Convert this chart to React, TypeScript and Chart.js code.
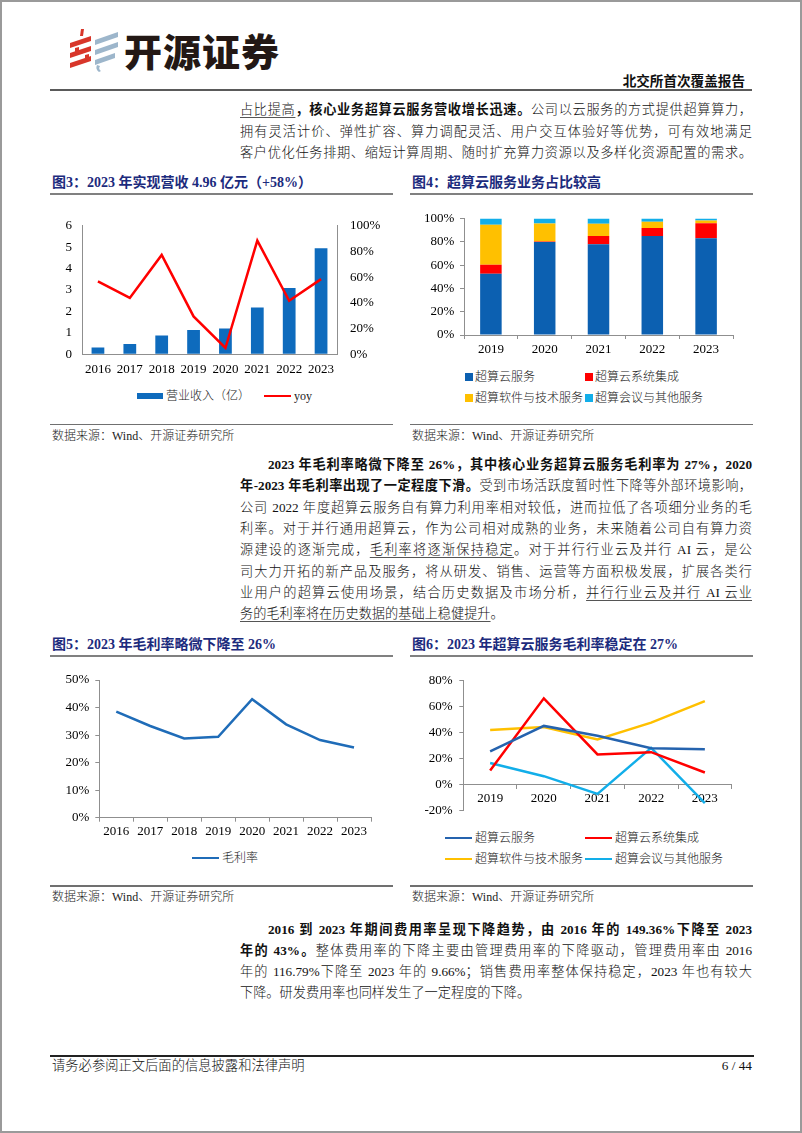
import React, { useEffect, useRef } from "react";
import { Chart, registerables } from "chart.js";

Chart.register(...registerables);

// ---------- data ----------
const revenueYears = ["2016", "2017", "2018", "2019", "2020", "2021", "2022", "2023"];
const revenueValues = [0.32, 0.48, 0.88, 1.14, 1.2, 2.18, 3.1, 4.95];
const revenueYoy = [56.8, 43.9, 77.3, 29.5, 4.9, 88.5, 41.7, 58.5];

const mixYears = ["2019", "2020", "2021", "2022", "2023"];
const mixCloud = [52.6, 79.8, 77.8, 85.0, 83.0];
const mixSystem = [7.6, 0.4, 7.2, 6.8, 13.0];
const mixSoftware = [34.4, 15.5, 10.5, 5.4, 2.3];
const mixOther = [5.4, 4.3, 4.5, 2.8, 1.7];

const marginYears = ["2016", "2017", "2018", "2019", "2020", "2021", "2022", "2023"];
const grossMargin = [38.5, 33.3, 28.8, 29.4, 43.0, 33.9, 28.2, 25.5];

const segYears = ["2019", "2020", "2021", "2022", "2023"];
const segCloud = [25.5, 45.2, 37.6, 28.0, 27.2];
const segSystem = [10.8, 66.4, 23.2, 25.0, 9.3];
const segSoftware = [42.1, 44.4, 34.8, 47.7, 64.3];
const segOther = [16.6, 6.5, -7.1, 28.3, -14.2];

const segNames = ["超算云服务", "超算云系统集成", "超算软件与技术服务", "超算会议与其他服务"];

// ---------- styles ----------
const SERIF = '"Liberation Serif", "Noto Sans CJK SC", serif';
const TICK_FONT = { family: '"Liberation Serif", serif', size: 13 };
const AXIS = "#8f8f8f";
const NAVY = "#1c2b7d";
const C_BLUE_BAR = "#0e6bbd";
const C_BLUE_STACK = "#0c60b1";
const C_RED = "#ff0000";
const C_YELLOW = "#ffc000";
const C_CYAN = "#12aee9";
const C_LINE_BLUE = "#1f6cb8";
const C_SEG_BLUE = "#2563ae";

const fixW = (w: number) => (s: any) => {
  s.width = w;
};
const fixH = (h: number) => (s: any) => {
  s.height = h;
};
const pct = (v: any) => `${v}%`;

function ChartCanvas({ left, top, width, height, make }: any) {
  const ref = useRef<HTMLCanvasElement>(null);
  useEffect(() => {
    const chart = new Chart(ref.current as HTMLCanvasElement, make());
    return () => chart.destroy();
  }, []);
  return (
    <div style={{ position: "absolute", left, top, width, height }}>
      <canvas ref={ref} width={width} height={height} style={{ width, height, display: "block" }} />
    </div>
  );
}

const baseOptions = (padding: any) => ({
  responsive: false,
  maintainAspectRatio: false,
  animation: false as const,
  layout: { padding },
  plugins: { legend: { display: false }, tooltip: { enabled: false } },
});

function revenueConfig(): any {
  return {
    type: "bar",
    data: {
      labels: revenueYears,
      datasets: [
        {
          type: "line",
          label: "yoy",
          data: revenueYoy,
          yAxisID: "y1",
          borderColor: C_RED,
          borderWidth: 2.5,
          pointRadius: 0,
          tension: 0,
          order: 0,
        },
        {
          type: "bar",
          label: "营业收入（亿）",
          data: revenueValues,
          yAxisID: "y",
          backgroundColor: C_BLUE_BAR,
          categoryPercentage: 1,
          barPercentage: 0.4,
          order: 1,
        },
      ],
    },
    options: {
      ...baseOptions({ top: 12.7, left: 0, right: 0, bottom: 0 }),
      scales: {
        x: {
          afterFit: fixH(30.7),
          grid: { display: true, drawOnChartArea: false, drawTicks: false },
          border: { color: AXIS },
          ticks: { font: TICK_FONT, color: "#000", padding: 7, maxRotation: 0 },
        },
        y: {
          position: "left",
          min: 0,
          max: 6,
          afterFit: fixW(32),
          grid: { drawOnChartArea: false, drawTicks: false },
          border: { color: AXIS },
          ticks: { stepSize: 1, font: TICK_FONT, color: "#000", padding: 10 },
        },
        y1: {
          position: "right",
          min: 0,
          max: 100,
          afterFit: fixW(55),
          grid: { drawOnChartArea: false, drawTicks: false },
          border: { color: AXIS },
          ticks: { stepSize: 20, font: TICK_FONT, color: "#000", padding: 13, callback: pct },
        },
      },
    },
  };
}

function mixConfig(): any {
  const ds = (label: string, data: number[], color: string) => ({
    label,
    data,
    backgroundColor: color,
    categoryPercentage: 1,
    barPercentage: 0.4,
  });
  return {
    type: "bar",
    data: {
      labels: mixYears,
      datasets: [
        ds(segNames[0], mixCloud, C_BLUE_STACK),
        ds(segNames[1], mixSystem, C_RED),
        ds(segNames[2], mixSoftware, C_YELLOW),
        ds(segNames[3], mixOther, C_CYAN),
      ],
    },
    options: {
      ...baseOptions({ top: 12.7, left: 0, right: 19, bottom: 0 }),
      scales: {
        x: {
          stacked: true,
          afterFit: fixH(30),
          grid: { drawOnChartArea: false, drawTicks: true, tickLength: 4, color: AXIS },
          border: { color: AXIS },
          ticks: { font: TICK_FONT, color: "#000", padding: 3, maxRotation: 0 },
        },
        y: {
          stacked: true,
          min: 0,
          max: 100,
          afterFit: fixW(54),
          grid: { drawOnChartArea: false, drawTicks: true, tickLength: 4, color: AXIS },
          border: { color: AXIS },
          ticks: { stepSize: 20, font: TICK_FONT, color: "#000", padding: 5.7, callback: pct },
        },
      },
    },
  };
}

function marginConfig(): any {
  return {
    type: "line",
    data: {
      labels: marginYears,
      datasets: [
        {
          label: "毛利率",
          data: grossMargin,
          borderColor: C_LINE_BLUE,
          borderWidth: 2.5,
          pointRadius: 0,
          tension: 0,
        },
      ],
    },
    options: {
      ...baseOptions({ top: 15, left: 0, right: 21, bottom: 0 }),
      scales: {
        x: {
          offset: true,
          afterFit: fixH(27.3),
          grid: { offset: true, drawOnChartArea: false, drawTicks: true, tickLength: 4, color: AXIS },
          border: { color: AXIS },
          ticks: { font: TICK_FONT, color: "#000", padding: 2, maxRotation: 0 },
        },
        y: {
          min: 0,
          max: 50,
          afterFit: fixW(49.3),
          grid: { drawOnChartArea: false, drawTicks: true, tickLength: 4, color: AXIS },
          border: { color: AXIS },
          ticks: { stepSize: 10, font: TICK_FONT, color: "#000", padding: 6, callback: pct },
        },
      },
    },
  };
}

function segConfig(): any {
  const ds = (label: string, data: number[], color: string) => ({
    label,
    data,
    borderColor: color,
    borderWidth: 2.5,
    pointRadius: 0,
    tension: 0,
  });
  return {
    type: "line",
    data: {
      labels: segYears,
      datasets: [
        ds(segNames[0], segCloud, C_SEG_BLUE),
        ds(segNames[1], segSystem, C_RED),
        ds(segNames[2], segSoftware, C_YELLOW),
        ds(segNames[3], segOther, C_CYAN),
      ],
    },
    options: {
      ...baseOptions({ top: 15.7, left: 0, right: 20.3, bottom: 12.3 }),
      scales: {
        x: {
          axis: "x",
          position: { y: 0 },
          offset: true,
          afterFit: fixH(0),
          grid: { offset: true, drawOnChartArea: false, drawTicks: true, tickLength: 4, color: AXIS },
          border: { color: AXIS },
          ticks: { font: TICK_FONT, color: "#000", padding: 2, maxRotation: 0 },
        },
        y: {
          min: -20,
          max: 80,
          afterFit: fixW(53.3),
          grid: { drawOnChartArea: false, drawTicks: true, tickLength: 4, color: AXIS },
          border: { color: AXIS },
          ticks: { stepSize: 20, font: TICK_FONT, color: "#000", padding: 6.6, callback: pct },
        },
      },
    },
  };
}

// ---------- layout helpers ----------
function Abs({ x, y, w, h, style, children }: any) {
  return (
    <div style={{ position: "absolute", left: x, top: y, width: w, height: h, ...style }}>{children}</div>
  );
}

function TextLine({ x, y, w, justify = true, children }: any) {
  return (
    <div
      style={{
        position: "absolute",
        left: x,
        top: y - 11,
        width: w,
        height: 22,
        lineHeight: "22px",
        fontSize: 13.2,
        fontFamily: SERIF,
        fontWeight: 300,
        color: "#111",
        textAlign: justify ? "justify" : "left",
        textAlignLast: justify ? "justify" : "left",
        overflow: "visible",
      }}
    >
      {children}
    </div>
  );
}

const B = ({ children }: any) => <span style={{ fontWeight: 700 }}>{children}</span>;
const U = ({ children }: any) => (
  <span style={{ textDecoration: "underline", textUnderlineOffset: "3px", textDecorationColor: "#555" }}>
    {children}
  </span>
);

function Title({ x, y, text }: any) {
  return (
    <>
      <div
        style={{
          position: "absolute",
          left: x,
          top: y - 10,
          height: 20,
          lineHeight: "20px",
          fontSize: 14,
          fontWeight: 700,
          fontFamily: SERIF,
          color: NAVY,
          whiteSpace: "nowrap",
        }}
      >
        {text}
      </div>
      <Abs x={x - 2} y={y + 10} w={343} h={1.5} style={{ background: "#808080" }} />
    </>
  );
}

function Source({ x, y }: any) {
  return (
    <>
      <Abs x={x - 2} y={y - 12} w={343} h={1.5} style={{ background: "#707070" }} />
      <div
        style={{
          position: "absolute",
          left: x,
          top: y - 8,
          height: 16,
          lineHeight: "16px",
          fontSize: 12,
          fontFamily: SERIF,
          fontWeight: 300,
          color: "#222",
          whiteSpace: "nowrap",
        }}
      >
        数据来源：Wind、开源证券研究所
      </div>
    </>
  );
}

function LegendText({ x, y, children }: any) {
  return (
    <div
      style={{
        position: "absolute",
        left: x,
        top: y - 8,
        height: 16,
        lineHeight: "16px",
        fontSize: 12,
        fontFamily: SERIF,
        fontWeight: 300,
        color: "#222",
        whiteSpace: "nowrap",
      }}
    >
      {children}
    </div>
  );
}

function LineKey({ x, y, color, label }: any) {
  return (
    <>
      <Abs x={x} y={y - 1.25} w={27} h={2.5} style={{ background: color }} />
      <LegendText x={x + 30} y={y}>
        {label}
      </LegendText>
    </>
  );
}

function BoxKey({ x, y, color, label }: any) {
  return (
    <>
      <Abs x={x} y={y - 4} w={8} h={8} style={{ background: color }} />
      <LegendText x={x + 10} y={y}>
        {label}
      </LegendText>
    </>
  );
}

function Logo() {
  return (
    <>
      <svg
        width={52}
        height={44}
        viewBox="0 0 52 44"
        style={{ position: "absolute", left: 67, top: 29 }}
      >
        <polygon points="14,0 17,0 16,7 13,7" fill="#d8362a" />
        <polygon points="3,14 24,7 24,12 3,19" fill="#d8362a" />
        <polygon points="3,24 24,17 24,22 3,29" fill="#d8362a" />
        <polygon points="3,34 24,27 24,32 3,39" fill="#d8362a" />
        <polygon points="8,19 12,18 12,24 8,25" fill="#d8362a" />
        <polygon points="18,26 22,25 22,30 18,31" fill="#d8362a" />
        <polygon points="28,11 51,3 51,8 28,16" fill="#9db6cb" />
        <polygon points="28,21 51,13 51,18 28,26" fill="#9db6cb" />
        <polygon points="28,31 48,24 48,29 28,36" fill="#9db6cb" />
        <path d="M30,36 Q28,40 32,43 L34,42 Q31,40 33,37 Z" fill="#9db6cb" />
      </svg>
      <div
        style={{
          position: "absolute",
          left: 124,
          top: 27,
          height: 46,
          lineHeight: "46px",
          fontSize: 38,
          letterSpacing: 1,
          fontWeight: 900,
          fontFamily: '"Noto Sans CJK SC", sans-serif',
          color: "#231815",
          whiteSpace: "nowrap",
        }}
      >
        开源证券
      </div>
    </>
  );
}

export default function App() {
  const L = 240;
  const W = 512;
  const IND = 268;
  const WI = 484;
  const p1 = [110, 131.5, 153];
  const p2 = [465, 486.3, 507.6, 528.9, 550.2, 571.5, 592.8, 614];
  const p3 = [930, 951, 972, 993];

  return (
    <div
      style={{
        position: "absolute",
        left: 0,
        top: 0,
        width: 802,
        height: 1133,
        boxSizing: "border-box",
        border: "2px solid #9a9a9a",
        background: "#fff",
        overflow: "hidden",
      }}
    >
      <div style={{ position: "absolute", left: -2, top: -2, width: 802, height: 1133 }}>
        <Logo />
        <div
          style={{
            position: "absolute",
            left: 560,
            width: 185,
            top: 74,
            height: 16,
            lineHeight: "16px",
            textAlign: "right",
            fontSize: 13.6,
            fontWeight: 700,
            fontFamily: SERIF,
            color: "#111",
            whiteSpace: "nowrap",
          }}
        >
          北交所首次覆盖报告
        </div>
        <Abs x={50} y={88.5} w={702} h={2} style={{ background: "#5a5a5a" }} />

        {/* paragraph 1 */}
        <TextLine x={L} y={p1[0]} w={W}>
          <U>占比提高</U>
          <B>，核心业务超算云服务营收增长迅速。</B>公司以云服务的方式提供超算算力，
        </TextLine>
        <TextLine x={L} y={p1[1]} w={W}>
          拥有灵活计价、弹性扩容、算力调配灵活、用户交互体验好等优势，可有效地满足
        </TextLine>
        <TextLine x={L} y={p1[2]} w={W}>
          客户优化任务排期、缩短计算周期、随时扩充算力资源以及多样化资源配置的需求。
        </TextLine>

        {/* figure 3 */}
        <Title x={52} y={183} text="图3：2023 年实现营收 4.96 亿元（+58%）" />
        <ChartCanvas left={50} top={205} width={342} height={180} make={revenueConfig} />
        <Abs x={137} y={393} w={26} h={6} style={{ background: C_BLUE_BAR }} />
        <LegendText x={166} y={395.5}>
          营业收入（亿）
        </LegendText>
        <LineKey x={264} y={396} color={C_RED} label="yoy" />
        <Source x={52} y={435.5} />

        {/* figure 4 */}
        <Title x={412} y={183} text="图4：超算云服务业务占比较高" />
        <ChartCanvas left={410} top={205} width={342} height={160} make={mixConfig} />
        <BoxKey x={465} y={377} color={C_BLUE_STACK} label={segNames[0]} />
        <BoxKey x={585} y={377} color={C_RED} label={segNames[1]} />
        <BoxKey x={465} y={398} color={C_YELLOW} label={segNames[2]} />
        <BoxKey x={585} y={398} color={C_CYAN} label={segNames[3]} />
        <Source x={412} y={435.5} />

        {/* paragraph 2 */}
        <TextLine x={IND} y={p2[0]} w={WI}>
          <B>2023 年毛利率略微下降至 26%，其中核心业务超算云服务毛利率为 27%，2020</B>
        </TextLine>
        <TextLine x={L} y={p2[1]} w={W}>
          <B>年-2023 年毛利率出现了一定程度下滑。</B>受到市场活跃度暂时性下降等外部环境影响，
        </TextLine>
        <TextLine x={L} y={p2[2]} w={W}>
          公司 2022 年度超算云服务自有算力利用率相对较低，进而拉低了各项细分业务的毛
        </TextLine>
        <TextLine x={L} y={p2[3]} w={W}>
          利率。对于并行通用超算云，作为公司相对成熟的业务，未来随着公司自有算力资
        </TextLine>
        <TextLine x={L} y={p2[4]} w={W}>
          源建设的逐渐完成，<U>毛利率将逐渐保持稳定</U>。对于并行行业云及并行 AI 云，是公
        </TextLine>
        <TextLine x={L} y={p2[5]} w={W}>
          司大力开拓的新产品及服务，将从研发、销售、运营等方面积极发展，扩展各类行
        </TextLine>
        <TextLine x={L} y={p2[6]} w={W}>
          业用户的超算云使用场景，结合历史数据及市场分析，<U>并行行业云及并行 AI 云业</U>
        </TextLine>
        <TextLine x={L} y={p2[7]} w={W} justify={false}>
          <U>务的毛利率将在历史数据的基础上稳健提升</U>。
        </TextLine>

        {/* figure 5 */}
        <Title x={52} y={645} text="图5：2023 年毛利率略微下降至 26%" />
        <ChartCanvas left={50} top={665} width={342} height={180} make={marginConfig} />
        <LineKey x={192} y={858} color={C_LINE_BLUE} label="毛利率" />
        <Source x={52} y={897} />

        {/* figure 6 */}
        <Title x={412} y={645} text="图6：2023 年超算云服务毛利率稳定在 27%" />
        <ChartCanvas left={410} top={665} width={342} height={160} make={segConfig} />
        <LineKey x={445} y={838} color={C_SEG_BLUE} label={segNames[0]} />
        <LineKey x={585} y={838} color={C_RED} label={segNames[1]} />
        <LineKey x={445} y={859} color={C_YELLOW} label={segNames[2]} />
        <LineKey x={585} y={859} color={C_CYAN} label={segNames[3]} />
        <Source x={412} y={897} />

        {/* paragraph 3 */}
        <TextLine x={IND} y={p3[0]} w={WI}>
          <B>2016 到 2023 年期间费用率呈现下降趋势，由 2016 年的 149.36%下降至 2023</B>
        </TextLine>
        <TextLine x={L} y={p3[1]} w={W}>
          <B>年的 43%。</B>整体费用率的下降主要由管理费用率的下降驱动，管理费用率由 2016
        </TextLine>
        <TextLine x={L} y={p3[2]} w={W}>
          年的 116.79%下降至 2023 年的 9.66%；销售费用率整体保持稳定，2023 年也有较大
        </TextLine>
        <TextLine x={L} y={p3[3]} w={W} justify={false}>
          下降。研发费用率也同样发生了一定程度的下降。
        </TextLine>

        {/* footer */}
        <Abs x={50} y={1055} w={704} h={2} style={{ background: "#222" }} />
        <div
          style={{
            position: "absolute",
            left: 52,
            top: 1058,
            height: 16,
            lineHeight: "16px",
            fontSize: 13.3,
            fontFamily: SERIF,
            fontWeight: 300,
            color: "#111",
            whiteSpace: "nowrap",
          }}
        >
          请务必参阅正文后面的信息披露和法律声明
        </div>
        <div
          style={{
            position: "absolute",
            left: 650,
            width: 102,
            top: 1058,
            height: 16,
            lineHeight: "16px",
            textAlign: "right",
            fontSize: 13.3,
            fontFamily: SERIF,
            color: "#111",
            whiteSpace: "nowrap",
          }}
        >
          6 / 44
        </div>
      </div>
    </div>
  );
}
